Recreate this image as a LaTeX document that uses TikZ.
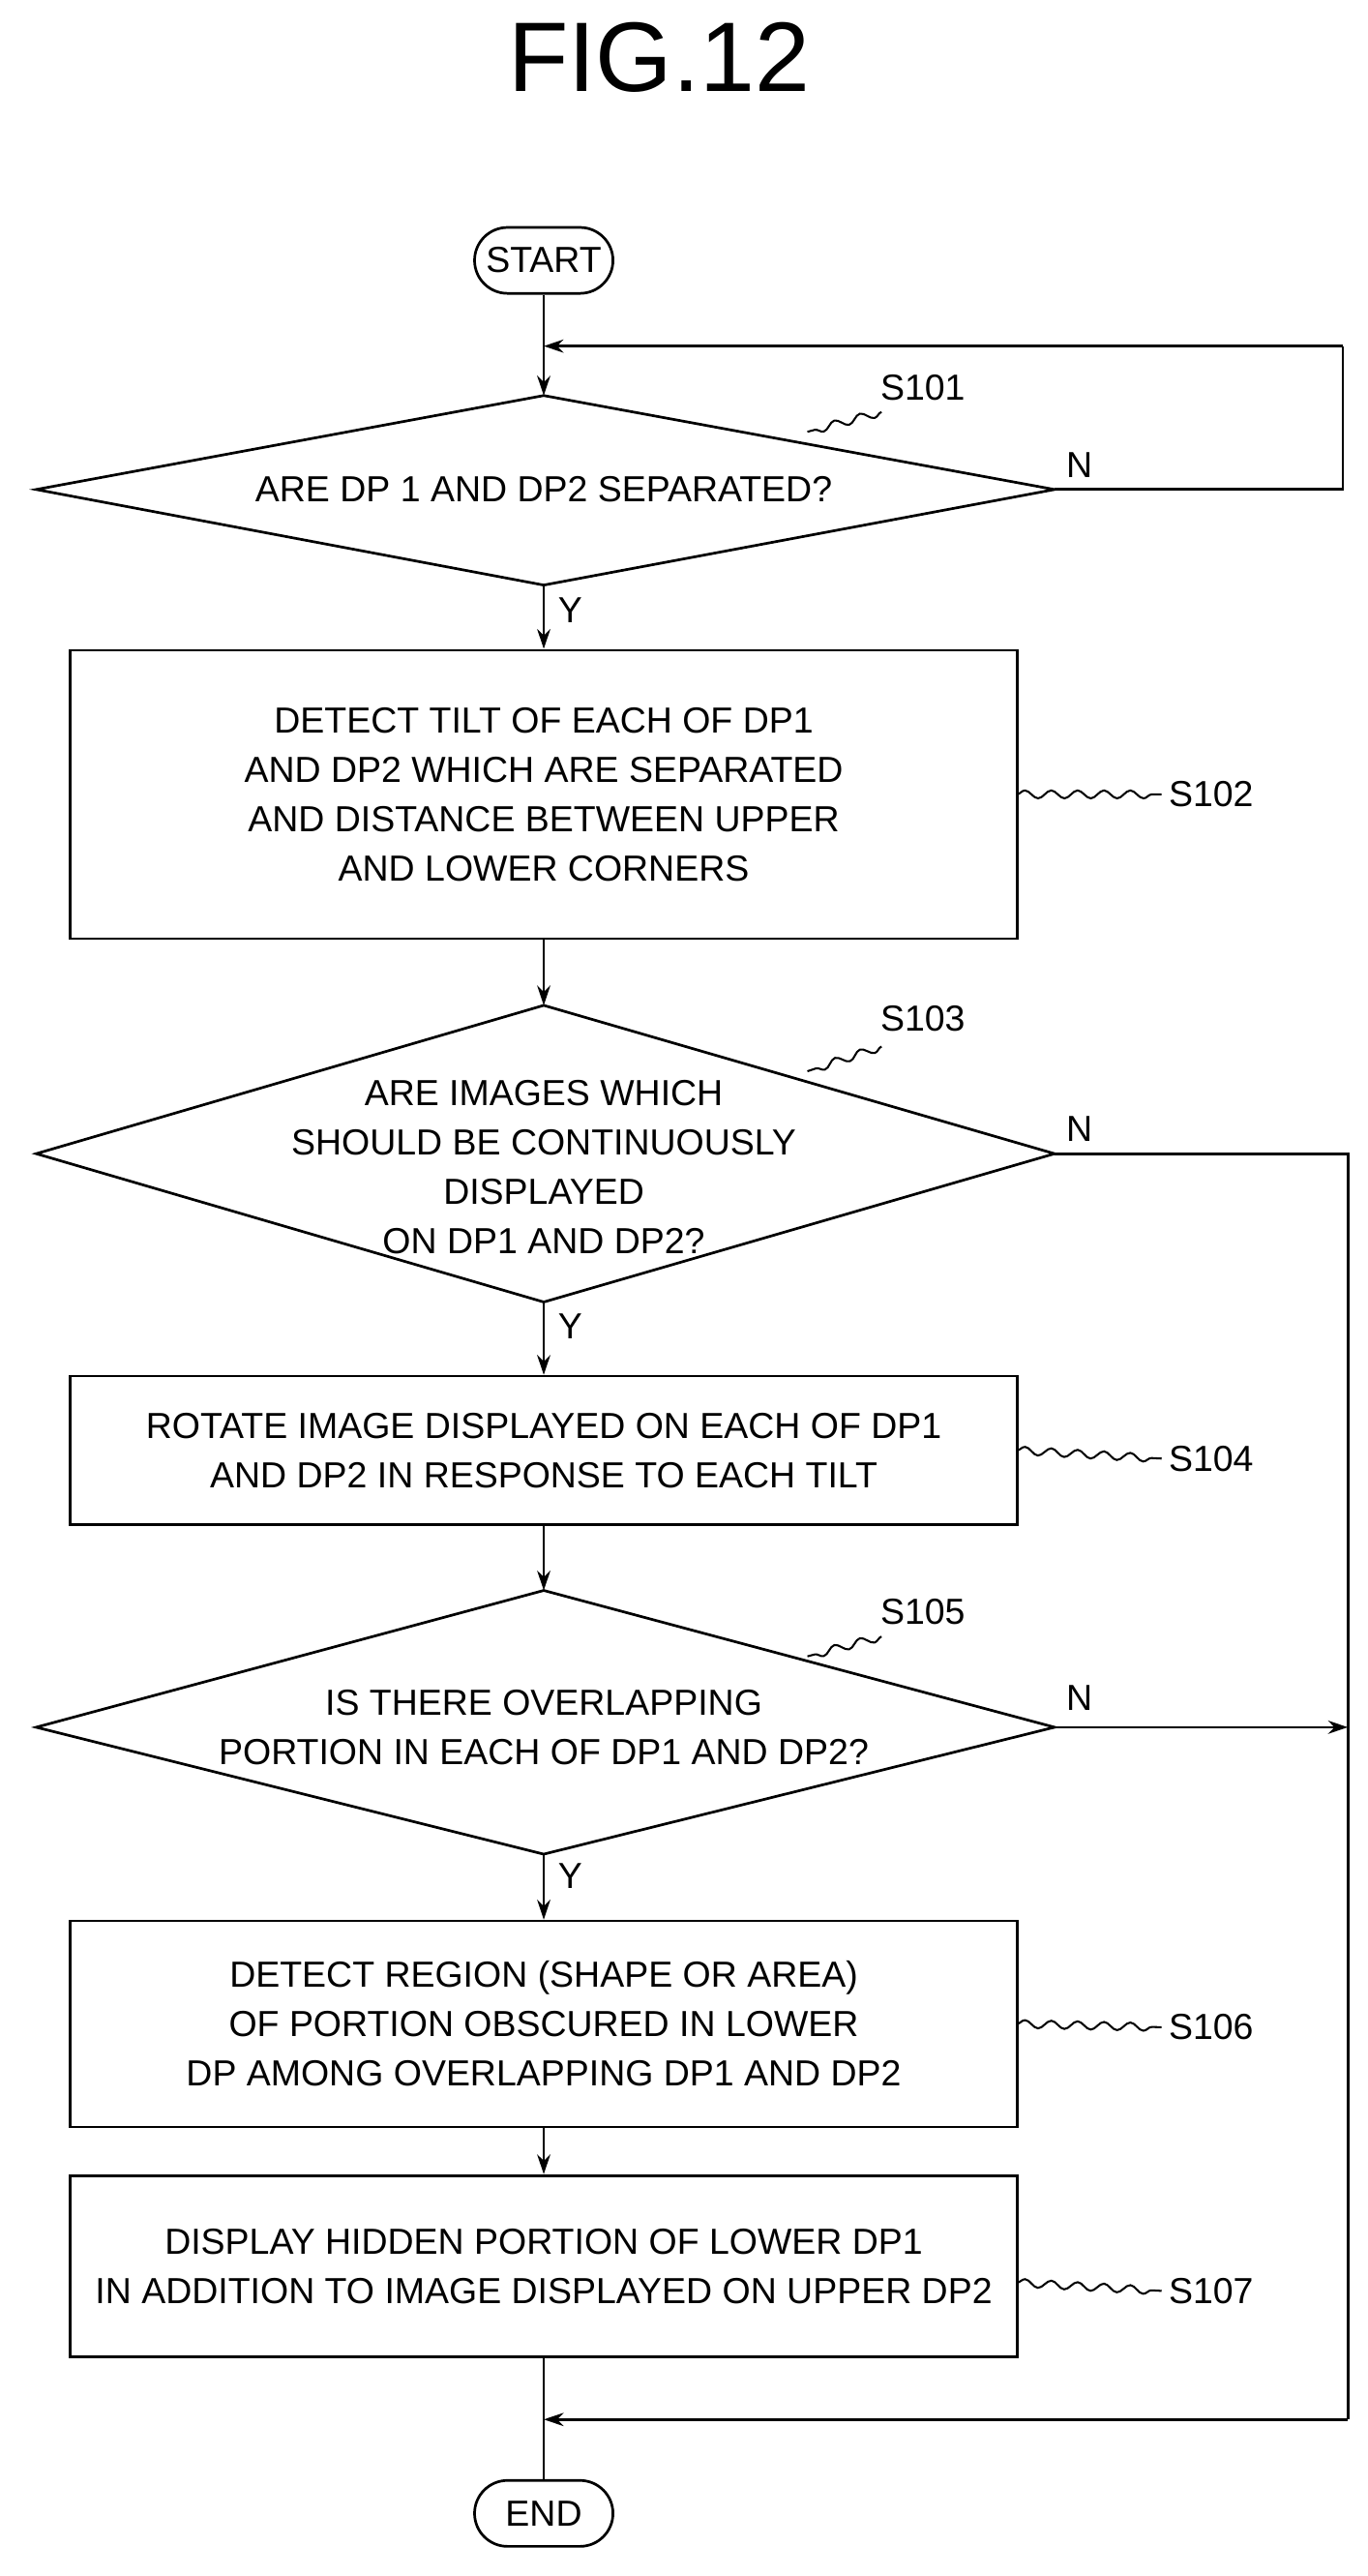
\documentclass[tikz,border=0pt]{standalone}
\usepackage{fontspec}
\setmainfont{Liberation Sans}
\usetikzlibrary{shapes.geometric,arrows.meta,decorations.pathmorphing}
\begin{document}
\begin{tikzpicture}[x=0.5pt,y=-0.5pt,
  every node/.style={font=\fontsize{11}{15}\selectfont},
  box/.style={draw,line width=0.8pt,minimum width=287.5pt,align=center,inner sep=0pt},
  pill/.style={draw,line width=0.8pt,rounded corners=10pt,minimum width=42pt,minimum height=20pt},
  line/.style={line width=0.8pt},
  arr/.style={line width=0.8pt,-{Stealth[length=6pt,width=4pt]}},
  lead/.style={line width=0.6pt,decorate,decoration={snake,amplitude=1.2pt,segment length=8pt}},
  lab/.style={font=\fontsize{11}{13}\selectfont}]
\useasboundingbox (0,0) rectangle (830,1563);
\node[font=\fontsize{30}{34}\selectfont] (title) at (400,35) {FIG.12};
\node[pill] (start) at (330,158) {START};
\coordinate (d1t) at (330,240); \coordinate (d1b) at (330,355);
\coordinate (d1l) at (22,297); \coordinate (d1r) at (640,297);
\draw[line] (d1t)--(d1r)--(d1b)--(d1l)--cycle;
\node (q1) at (330,297) {ARE DP 1 AND DP2 SEPARATED?};
\node[box,minimum height=87.5pt] (b2) at (330,482) {DETECT TILT OF EACH OF DP1\\AND DP2 WHICH ARE SEPARATED\\AND DISTANCE BETWEEN UPPER\\AND LOWER CORNERS};
\coordinate (d3t) at (330,610); \coordinate (d3b) at (330,790);
\coordinate (d3l) at (22,700); \coordinate (d3r) at (640,700);
\draw[line] (d3t)--(d3r)--(d3b)--(d3l)--cycle;
\node[align=center] (q3) at (330,708) {ARE IMAGES WHICH\\SHOULD BE CONTINUOUSLY\\DISPLAYED\\ON DP1 AND DP2?};
\node[box,minimum height=45pt] (b4) at (330,880) {ROTATE IMAGE DISPLAYED ON EACH OF DP1\\AND DP2 IN RESPONSE TO EACH TILT};
\coordinate (d5t) at (330,965); \coordinate (d5b) at (330,1125);
\coordinate (d5l) at (22,1048); \coordinate (d5r) at (640,1048);
\draw[line] (d5t)--(d5r)--(d5b)--(d5l)--cycle;
\node[align=center] (q5) at (330,1048) {IS THERE OVERLAPPING\\PORTION IN EACH OF DP1 AND DP2?};
\node[box,minimum height=62.5pt] (b6) at (330,1228) {DETECT REGION (SHAPE OR AREA)\\OF PORTION OBSCURED IN LOWER\\DP AMONG OVERLAPPING DP1 AND DP2};
\node[box,minimum height=55pt] (b7) at (330,1375) {DISPLAY HIDDEN PORTION OF LOWER DP1\\IN ADDITION TO IMAGE DISPLAYED ON UPPER DP2};
\node[pill] (end) at (330,1525) {END};
\coordinate (j1) at (330,210); \coordinate (j2) at (330,1468);
\draw[arr] (start)--(d1t);
\draw[line] (d1r)--(815,297)--(815,210);
\draw[arr] (815,210)--(j1);
\draw[arr] (d1b)--(b2);
\draw[arr] (b2)--(d3t);
\draw[arr] (d3b)--(b4);
\draw[arr] (b4)--(d5t);
\draw[arr] (d5b)--(b6);
\draw[arr] (b6)--(b7);
\draw[line] (b7)--(j2)--(end);
\draw[line] (d3r)--(818,700)--(818,1468);
\draw[arr] (818,1468)--(j2);
\draw[arr] (d5r)--(818,1048);
\node[lab] at (655,282) {N};
\node[lab] at (655,685) {N};
\node[lab] at (655,1030) {N};
\node[lab] at (346,370) {Y};
\node[lab] at (346,805) {Y};
\node[lab] at (346,1138) {Y};
\node[lab] (s101) at (560,235) {S101};
\draw[lead] (535,250)--(490,262);
\node[lab] (s102) at (735,482) {S102};
\draw[lead] (617,482)--(705,482);
\node[lab] (s103) at (560,618) {S103};
\draw[lead] (535,635)--(490,650);
\node[lab] (s104) at (735,885) {S104};
\draw[lead] (617,880)--(705,885);
\node[lab] (s105) at (560,978) {S105};
\draw[lead] (535,993)--(490,1005);
\node[lab] (s106) at (735,1230) {S106};
\draw[lead] (617,1228)--(705,1230);
\node[lab] (s107) at (735,1390) {S107};
\draw[lead] (617,1385)--(705,1390);
\end{tikzpicture}
\end{document}
